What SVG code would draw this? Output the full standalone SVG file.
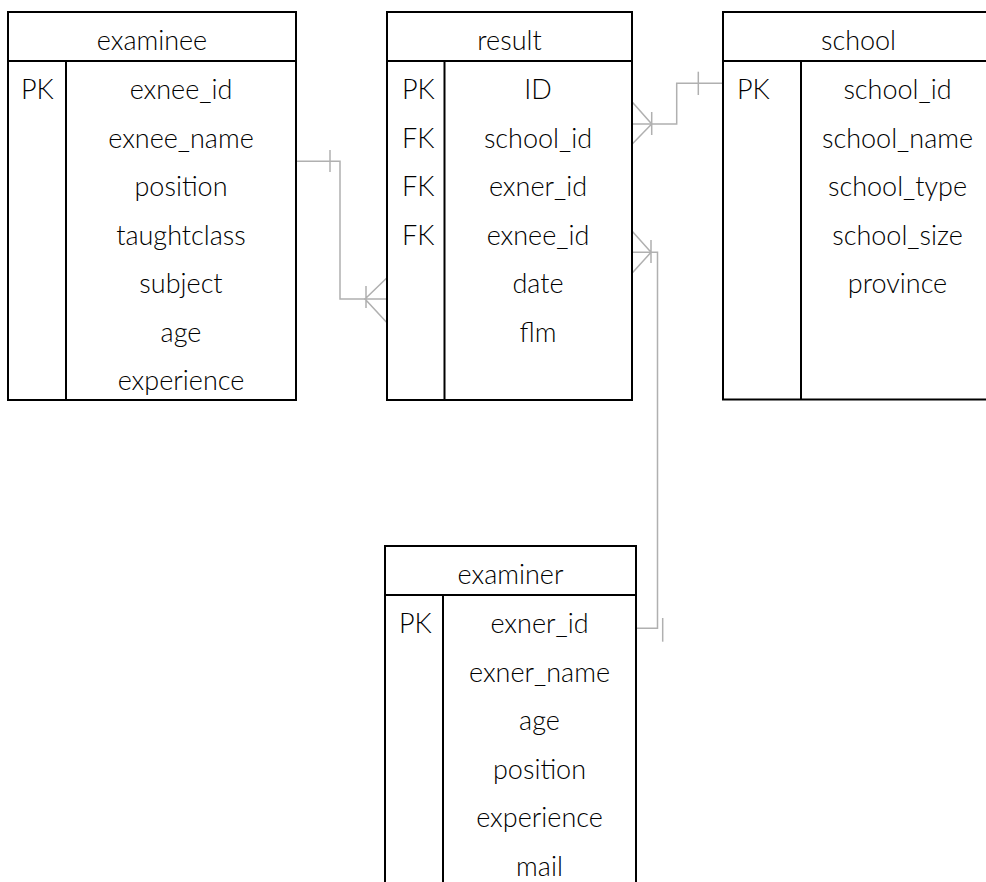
<svg xmlns="http://www.w3.org/2000/svg" width="986" height="882" viewBox="0 0 986 882">
<style>
.box{fill:#fff;stroke:#000;stroke-width:2}
.ln{stroke:#000;stroke-width:2;fill:none}
.t{font-family:Lato,"Open Sans","Liberation Sans",sans-serif;font-weight:300;font-size:27px;fill:#000}
.c{text-anchor:middle}
.cn{stroke:#b0b0b0;stroke-width:1.5;fill:none}
</style>
<g id="connectors">
<polyline class="cn" points="296,161.3 340,161.3 340,299 387,299"/>
<line class="cn" x1="330" y1="150" x2="330" y2="172"/>
<path class="cn" d="M387,277.7 L365,299 L387,322.7 M366,286 L366,308"/>
<polyline class="cn" points="632,124 676.7,124 676.7,83.3 723,83.3"/>
<line class="cn" x1="698.3" y1="71.7" x2="698.3" y2="95"/>
<path class="cn" d="M632,101.7 L651.7,124 L632,144.3 M651.7,112 L651.7,135"/>
<polyline class="cn" points="632,252.3 657.5,252.3 657.5,628.3 636,628.3"/>
<line class="cn" x1="662.7" y1="618" x2="662.7" y2="641.7"/>
<path class="cn" d="M632,231 L651,252.3 L632,273.3 M651,240 L651,263"/>
</g>
<g id="examinee">
<rect class="box" x="8" y="12" width="288" height="388"/>
<line class="ln" x1="8" y1="61" x2="296" y2="61"/>
<line class="ln" x1="66" y1="61" x2="66" y2="400"/>
<text class="t c" x="152" y="49.5">examinee</text>
<text class="t" x="21" y="99">PK</text>
<text class="t c" x="181" y="99">exnee_id</text>
<text class="t c" x="181" y="147.5">exnee_name</text>
<text class="t c" x="181" y="196">position</text>
<text class="t c" x="181" y="244.5">taughtclass</text>
<text class="t c" x="181" y="293">subject</text>
<text class="t c" x="181" y="341.5">age</text>
<text class="t c" x="181" y="390">experience</text>
</g>
<g id="result">
<rect class="box" x="387" y="12" width="245" height="388"/>
<line class="ln" x1="387" y1="61" x2="632" y2="61"/>
<line class="ln" x1="444.5" y1="61" x2="444.5" y2="400"/>
<text class="t c" x="509.5" y="49.5">result</text>
<text class="t" x="402" y="99">PK</text>
<text class="t" x="402" y="147.5">FK</text>
<text class="t" x="402" y="196">FK</text>
<text class="t" x="402" y="244.5">FK</text>
<text class="t c" x="538" y="99">ID</text>
<text class="t c" x="538" y="147.5">school_id</text>
<text class="t c" x="538" y="196">exner_id</text>
<text class="t c" x="538" y="244.5">exnee_id</text>
<text class="t c" x="538" y="293">date</text>
<text class="t c" x="538" y="341.5">flm</text>
</g>
<g id="school">
<rect class="box" x="723" y="12" width="271" height="387.5"/>
<line class="ln" x1="723" y1="61" x2="994" y2="61"/>
<line class="ln" x1="801" y1="61" x2="801" y2="399.5"/>
<text class="t c" x="858.5" y="49.5">school</text>
<text class="t" x="737" y="99">PK</text>
<text class="t c" x="897.5" y="99">school_id</text>
<text class="t c" x="897.5" y="147.5">school_name</text>
<text class="t c" x="897.5" y="196">school_type</text>
<text class="t c" x="897.5" y="244.5">school_size</text>
<text class="t c" x="897.5" y="293">province</text>
</g>
<g id="examiner">
<rect class="box" x="385" y="546" width="251" height="360"/>
<line class="ln" x1="385" y1="595" x2="636" y2="595"/>
<line class="ln" x1="443" y1="595" x2="443" y2="906"/>
<text class="t c" x="510.5" y="583.5">examiner</text>
<text class="t" x="399" y="633">PK</text>
<text class="t c" x="539.5" y="633">exner_id</text>
<text class="t c" x="539.5" y="681.5">exner_name</text>
<text class="t c" x="539.5" y="730">age</text>
<text class="t c" x="539.5" y="778.5">position</text>
<text class="t c" x="539.5" y="827">experience</text>
<text class="t c" x="539.5" y="875.5">mail</text>
</g>
</svg>
